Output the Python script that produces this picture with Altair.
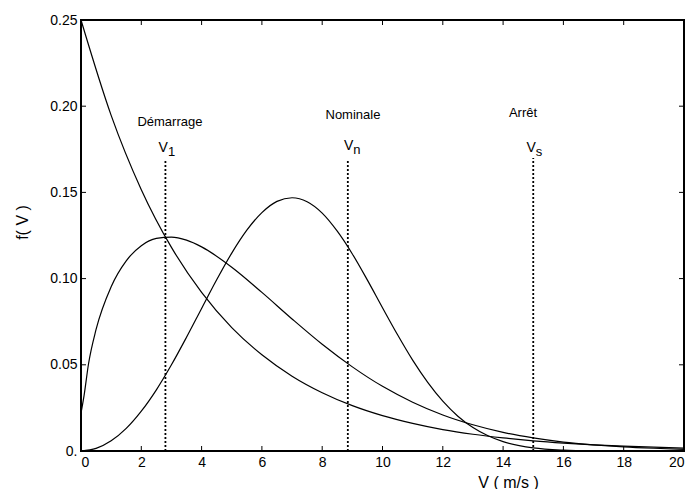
import altair as alt
import pandas as pd

# Wind speed probability densities f(V) for three Weibull-type regimes
v_a = [0, 1, 2, 3, 4, 5, 6, 7, 8, 9, 10, 11, 12, 13, 14, 15, 16, 17, 18, 19, 20]
f_a = [0.250, 0.1947, 0.1516, 0.1181, 0.0920, 0.0716, 0.0558, 0.0434, 0.0338,
       0.0263, 0.0205, 0.0160, 0.0124, 0.0097, 0.0076, 0.0059, 0.0046, 0.0036,
       0.0028, 0.0022, 0.0017]

v_b = [0, 0.1, 0.25, 0.5, 1, 1.5, 2, 2.5, 3, 3.5, 4, 5, 6, 7, 8, 9, 10, 11, 12,
       13, 14, 15, 16, 17, 18, 19, 20]
f_b = [0.022, 0.032, 0.0506, 0.0705, 0.0953, 0.1103, 0.1191, 0.1233, 0.1241,
       0.1223, 0.1184, 0.1066, 0.0920, 0.0766, 0.0619, 0.0488, 0.0375, 0.0283,
       0.0209, 0.0152, 0.0108, 0.0076, 0.0052, 0.0036, 0.0024, 0.0016, 0.0010]

v_c = [0, 0.5, 1, 1.5, 2, 2.5, 3, 3.5, 4, 4.5, 5, 5.5, 6, 6.5, 7, 7.5, 8, 8.5,
       9, 9.5, 10, 10.5, 11, 11.5, 12, 12.5, 13, 13.5, 14, 15, 16, 17, 18, 19, 20]
f_c = [0.0, 0.0015, 0.0059, 0.0131, 0.0231, 0.0355, 0.0500, 0.0660, 0.0827,
       0.0993, 0.1148, 0.1281, 0.1383, 0.1448, 0.1469, 0.1446, 0.1380, 0.1275,
       0.1143, 0.0991, 0.0831, 0.0674, 0.0527, 0.0398, 0.0289, 0.0202, 0.0136,
       0.0088, 0.0054, 0.0018, 0.0005, 0.0001, 0.0, 0.0, 0.0]

# Characteristic speeds: start-up, nominal, cut-out
speed_x = [2.8, 8.85, 15.0]
speed_top = [0.169, 0.169, 0.170]
speed_names = ["Démarrage", "Nominale", "Arrêt"]
name_x = [2.95, 9.02, 14.66]
name_y = [0.191, 0.195, 0.196]
sym_x = [2.85, 9.0, 15.05]
sym_y = [0.1755, 0.1770, 0.1755]
sym_sub = ["1", "n", "s"]

x_ticks = [0, 2, 4, 6, 8, 10, 12, 14, 16, 18, 20]
y_ticks = [0, 0.05, 0.10, 0.15, 0.20, 0.25]

W, H = 603, 431
TICK = 5
FONT = "Liberation Sans"

curves = pd.concat([
    pd.DataFrame({"v": v_a, "f": f_a, "curve": "a"}),
    pd.DataFrame({"v": v_b, "f": f_b, "curve": "b"}),
    pd.DataFrame({"v": v_c, "f": f_c, "curve": "c"}),
])
speeds = pd.DataFrame({
    "v": speed_x, "top": speed_top, "zero": [0, 0, 0],
    "name": speed_names, "nx": name_x, "ny": name_y,
    "sx": sym_x, "sy": sym_y, "sub": sym_sub,
})
xt = pd.DataFrame({"t": x_ticks})
yt = pd.DataFrame({"t": y_ticks[1:]})

xscale = alt.Scale(domain=[0, 20], nice=False, zero=False)
yscale = alt.Scale(domain=[0, 0.25], nice=False)

# One axis definition per channel, shared by every layer so they merge
x_axis = alt.Axis(
    orient="bottom", values=x_ticks, ticks=False, domain=False, grid=False,
    labelFontSize=14, labelFont=FONT, labelColor="black", labelPadding=4,
    title="V ( m/s )", titleFont=FONT, titleFontSize=16,
    titleFontWeight="normal", titleColor="black", titleX=427, titleY=36,
    titleAlign="center", titleBaseline="alphabetic")
y_axis = alt.Axis(
    orient="left", values=y_ticks, ticks=False, domain=False, grid=False,
    labelFontSize=14, labelFont=FONT, labelColor="black", labelPadding=4,
    labelExpr="datum.value == 0 ? '0.' : format(datum.value, '.2f')",
    title="f( V )", titleFont=FONT, titleFontSize=16,
    titleFontWeight="normal", titleColor="black", titleX=-59, titleY=202,
    titleAngle=-90, titleAlign="center", titleBaseline="middle")


def X(field):
    return alt.X(field, type="quantitative", scale=xscale, axis=x_axis)


def Y(field):
    return alt.Y(field, type="quantitative", scale=yscale, axis=y_axis)


lines = alt.Chart(curves).mark_line(
    color="black", strokeWidth=1.2, interpolate="monotone"
).encode(x=X("v"), y=Y("f"), detail="curve:N")

# Box ticks pointing inward on all four sides
tick_style = dict(color="black", strokeWidth=1)
ticks_bottom = alt.Chart(xt).mark_rule(**tick_style).encode(
    x=X("t"), y=alt.value(H), y2=alt.value(H - TICK))
ticks_top = alt.Chart(xt).mark_rule(**tick_style).encode(
    x=X("t"), y=alt.value(0), y2=alt.value(TICK))
ticks_left = alt.Chart(yt).mark_rule(**tick_style).encode(
    y=Y("t"), x=alt.value(0), x2=alt.value(TICK))
ticks_right = alt.Chart(yt).mark_rule(**tick_style).encode(
    y=Y("t"), x=alt.value(W), x2=alt.value(W - TICK))

vlines = alt.Chart(speeds).mark_rule(
    color="black", strokeWidth=1.8, strokeDash=[2, 2]
).encode(x=X("v"), y=Y("zero"), y2="top:Q")

names = alt.Chart(speeds).mark_text(
    font=FONT, fontSize=13, color="black", align="center", baseline="middle"
).encode(x=X("nx"), y=Y("ny"), text="name:N")

sym_v = alt.Chart(speeds).mark_text(
    font=FONT, fontSize=14, color="black", align="right", baseline="middle", dx=1
).encode(x=X("sx"), y=Y("sy"), text=alt.value("V"))

sym_sub_txt = alt.Chart(speeds).mark_text(
    font=FONT, fontSize=13, color="black", align="left", baseline="middle",
    dx=1, dy=4
).encode(x=X("sx"), y=Y("sy"), text="sub:N")

chart = alt.layer(
    lines, ticks_bottom, ticks_top, ticks_left, ticks_right,
    vlines, names, sym_v, sym_sub_txt
).properties(
    width=W, height=H, autosize="none",
    padding={"left": 81, "top": 20, "right": 5, "bottom": 38},
    background="white",
).configure_view(
    stroke="black", strokeWidth=2
)

chart.save("out.html", embed_options={"renderer": "svg", "actions": False})
